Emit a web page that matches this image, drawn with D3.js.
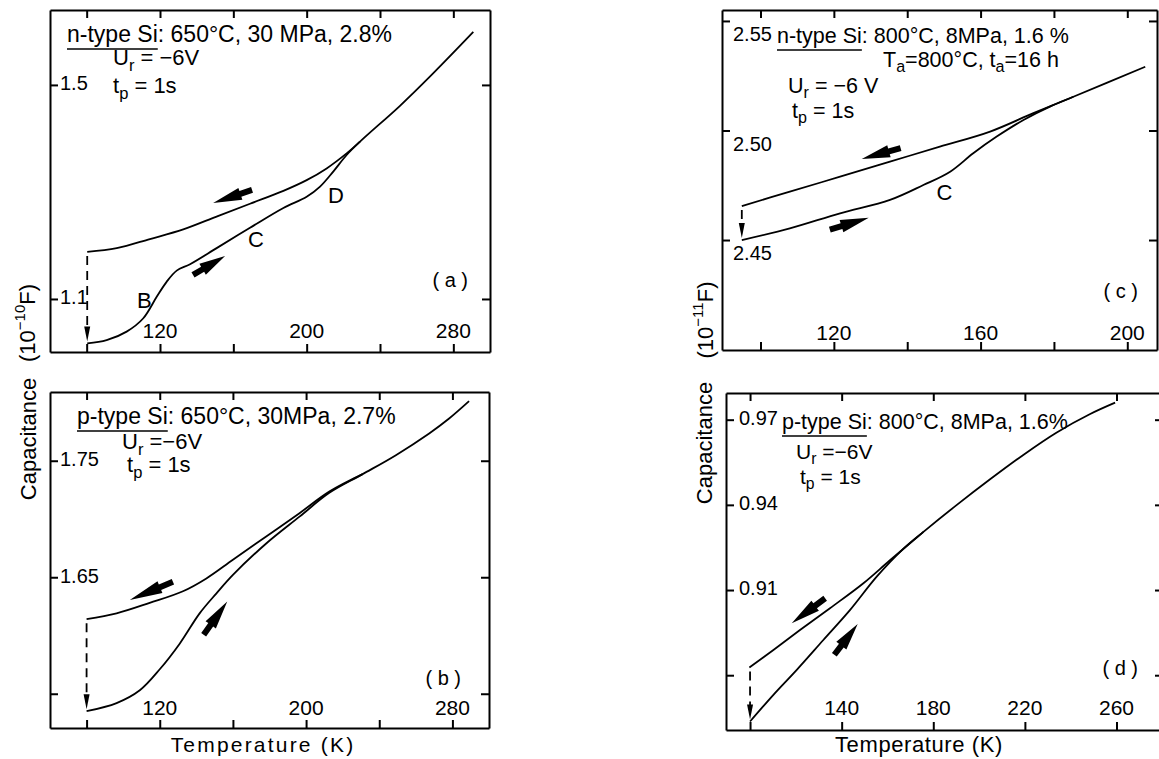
<!DOCTYPE html>
<html>
<head>
<meta charset="utf-8">
<script src="https://cdn.jsdelivr.net/npm/d3@7"></script>
<style>
  body { margin: 0; background: #fff; }
  svg text { fill: #000; }
</style>
</head>
<body>
<svg id="fig" width="1159" height="759"></svg>
<script>
// C(T) hysteresis of deformed Si, four panels

// (a) n-type Si, 650C 30MPa 2.8%  (capacitance in 1e-10 F)
var aHeatT = [80.3, 90.9, 101.8, 110.9, 118.2, 123.6, 129.1, 136.4, 150.9, 169.1, 187.3, 200, 207.3, 214.5, 221.8, 229.1, 250.9, 269.1, 290.9];
var aHeatC = [1.017, 1.023, 1.039, 1.064, 1.104, 1.132, 1.153, 1.165, 1.195, 1.233, 1.270, 1.291, 1.310, 1.338, 1.369, 1.394, 1.461, 1.522, 1.599];
var aCoolT = [80.3, 96.4, 114.5, 132.7, 150.9, 169.1, 187.3, 200, 210.9, 221.8, 229.1];
var aCoolC = [1.188, 1.195, 1.212, 1.230, 1.254, 1.278, 1.302, 1.322, 1.344, 1.372, 1.394];

// (b) p-type Si, 650C 30MPa 2.7%
var bHeatT = [80, 96.4, 109.1, 120, 130.9, 141.8, 150.9, 160, 178.2, 196.4, 212.7, 230.9, 249.1, 267.3, 278.2, 289.1];
var bHeatC = [1.535, 1.542, 1.553, 1.571, 1.593, 1.619, 1.636, 1.652, 1.679, 1.702, 1.7225, 1.7385, 1.7548, 1.7734, 1.7862, 1.8011];
var bCoolT = [80, 96.4, 114.5, 132.7, 145.5, 160, 178.2, 196.4, 212.7, 230.9];
var bCoolC = [1.614, 1.619, 1.628, 1.638, 1.649, 1.665, 1.685, 1.705, 1.7235, 1.7385];

// (c) n-type Si, 800C 8MPa 1.6%, annealed 800C 16h  (1e-11 F)
var cHeatT = [94.9, 108.0, 121.7, 135.3, 144.4, 151.7, 158.0, 164.4, 171.7, 178.9, 185.3, 204.9];
var cHeatC = [2.450, 2.4553, 2.4622, 2.4683, 2.4751, 2.4812, 2.4896, 2.4972, 2.5048, 2.5109, 2.5154, 2.5291];
var cCoolT = [94.9, 108.0, 121.7, 135.3, 148.9, 162.6, 174.4, 185.3];
var cCoolC = [2.4655, 2.4721, 2.4789, 2.4858, 2.4926, 2.4995, 2.5079, 2.5154];

// (d) p-type Si, 800C 8MPa 1.6%
var dHeatT = [100, 110.2, 120.4, 132.0, 143.7, 155.3, 166.9, 175.7, 190.3, 204.8, 219.3, 233.9, 248.5, 259.4];
var dHeatC = [0.8637, 0.8731, 0.8819, 0.8924, 0.9030, 0.9147, 0.9245, 0.9305, 0.9400, 0.9490, 0.9576, 0.9655, 0.9720, 0.9760];
var dCoolT = [99.7, 110.2, 121.8, 134.9, 149.5, 161.1, 175.7];
var dCoolC = [0.8827, 0.8889, 0.8959, 0.9036, 0.9124, 0.9205, 0.9305];

// ticks
var abTicksX = [80, 120, 160, 200, 240, 280];
var abLabelsX = [120, 200, 280];
var cTicksX = [100, 120, 140, 160, 180, 200];
var cLabelsX = [120, 160, 200];
var dTicksX = [100, 140, 180, 220, 260];
var dLabelsX = [140, 180, 220, 260];
var aTicksY = [1.1, 1.5], aLabelsY = ['1.1', '1.5'];
var bTicksY = [1.55, 1.65, 1.75], bLabelsY = ['1.65', '1.75'];
var cTicksY = [2.45, 2.50, 2.55], cLabelsY = ['2.45', '2.50', '2.55'];
var dTicksY = [0.88, 0.91, 0.94, 0.97], dLabelsY = ['0.91', '0.94', '0.97'];

// direction arrows [tailT, tailC, headT, headC]
var aArrows = [[170.2, 1.3037, 149.0, 1.2794], [138.0, 1.1449, 155.5, 1.1804]];
var bArrows = [[127.2, 1.6462, 103.6, 1.6305], [144.0, 1.6006, 156.9, 1.6291]];
var cArrows = [[138.2, 2.4920, 127.6, 2.4870], [118.9, 2.4547, 129.5, 2.4602]];
var dArrows = [[132.8, 0.9071, 118.2, 0.8983], [136.8, 0.8872, 147.0, 0.8980]];

// point letters [text, T, C]
var aLetters = [['B', 107.4, 1.083], ['C', 168, 1.197], ['D', 211.6, 1.279]];
var cLetters = [['C', 148, 2.4683]];

var FONT = "'Liberation Sans', Arial, sans-serif";
var svg = d3.select('#fig');

var panels = [
  {name: '(a)', left: 50, right: 490, top: 10, bottom: 352, xDom: [60, 300], yDom: [1.0009, 1.640],
   heat: [aHeatT, aHeatC], cool: [aCoolT, aCoolC], xTicks: abTicksX, xLabels: abLabelsX,
   yTicks: aTicksY, yLabels: aLabelsY, arrows: aArrows, letters: aLetters,
   yLabDx: 10, yLabDy: 0, xLabUp: 14, tagDx: -22, tagUp: 65, hs: 23, ls: 22,
   head: {dx: 17, dy: 32, under: 'n-type Si', rest: ': 650°C, 30 MPa, 2.8%'},
   lines: [{dx: 63, dy: 55, parts: [['U'], ['r', 1], [' = −6V']]}, {dx: 63, dy: 83, parts: [['t'], ['p', 1], [' = 1s']]}]},
  {name: '(b)', left: 50, right: 489, top: 392, bottom: 728, xDom: [60, 300], yDom: [1.5206, 1.809],
   heat: [bHeatT, bHeatC], cool: [bCoolT, bCoolC], xTicks: abTicksX, xLabels: abLabelsX,
   yTicks: bTicksY, yLabels: bLabelsY, arrows: bArrows, letters: [],
   yLabDx: 10, yLabDy: 0, xLabUp: 13, tagDx: -28, tagUp: 43, hs: 23, ls: 22,
   head: {dx: 27, dy: 32, under: 'p-type Si', rest: ': 650°C, 30MPa, 2.7%'},
   lines: [{dx: 72, dy: 57, parts: [['U'], ['r', 1], [' =−6V']]}, {dx: 77, dy: 80, parts: [['t'], ['p', 1], [' = 1s']]}]},
  {name: '(c)', left: 722, right: 1157, top: 10, bottom: 350, xDom: [89.5, 208.1], yDom: [2.3998, 2.555],
   heat: [cHeatT, cHeatC], cool: [cCoolT, cCoolC], xTicks: cTicksX, xLabels: cLabelsX,
   yTicks: cTicksY, yLabels: cLabelsY, arrows: cArrows, letters: cLetters,
   yLabDx: 11, yLabDy: 15, xLabUp: 10, tagDx: -19, tagUp: 52, hs: 21.5, ls: 21.5,
   head: {dx: 55, dy: 33, under: 'n-type Si', rest: ': 800°C,  8MPa, 1.6 %'},
   lines: [{dx: 161, dy: 57, parts: [['T'], ['a', 1], ['=800°C,  t'], ['a', 1], ['=16 h']]},
           {dx: 66, dy: 83, parts: [['U'], ['r', 1], [' = −6 V']]}, {dx: 70, dy: 108, parts: [['t'], ['p', 1], [' = 1s']]}]},
  {name: '(d)', left: 726, right: 1163, top: 393, bottom: 730, xDom: [89.5, 280.3], yDom: [0.8607, 0.9794],
   heat: [dHeatT, dHeatC], cool: [dCoolT, dCoolC], xTicks: dTicksX, xLabels: dLabelsX,
   yTicks: dTicksY, yLabels: dLabelsY, arrows: dArrows, letters: [],
   yLabDx: 13, yLabDy: 0, xLabUp: 15, tagDx: -25, tagUp: 55, hs: 21.5, ls: 21,
   head: {dx: 56, dy: 36, under: 'p-type Si', rest: ': 800°C, 8MPa, 1.6%'},
   lines: [{dx: 70, dy: 66, parts: [['U'], ['r', 1], [' =−6V']]}, {dx: 74, dy: 91, parts: [['t'], ['p', 1], [' = 1s']]}]}
];

function richText(g, px, py, parts, size) {
  var t = g.append('text').attr('x', px).attr('y', py)
    .style('font-family', FONT).style('font-size', size + 'px');
  var low = false;
  parts.forEach(function(p) {
    var s = t.append('tspan').text(p[0]);
    if (p[1] && !low) { s.attr('dy', size * 0.25).style('font-size', (size * 0.75) + 'px'); low = true; }
    else if (!p[1] && low) { s.attr('dy', -size * 0.25); low = false; }
  });
  return t;
}

function fatArrow(g, x0, y0, x1, y1) {
  var dx = x1 - x0, dy = y1 - y0, L = Math.hypot(dx, dy);
  var ux = dx / L, uy = dy / L, nx = -uy, ny = ux;
  var hl = L * 0.7, hw = 6.3, sw = 3;
  var bx = x1 - ux * hl, by = y1 - uy * hl;
  var pts = [[x0 + nx * sw, y0 + ny * sw], [bx + nx * sw, by + ny * sw], [bx + nx * hw, by + ny * hw], [x1, y1],
             [bx - nx * hw, by - ny * hw], [bx - nx * sw, by - ny * sw], [x0 - nx * sw, y0 - ny * sw]];
  g.append('path').attr('d', d3.line()(pts) + 'Z').attr('fill', '#000');
}

panels.forEach(function(p) {
  var g = svg.append('g');
  var x = d3.scaleLinear().domain(p.xDom).range([p.left, p.right]);
  var y = d3.scaleLinear().domain(p.yDom).range([p.bottom, p.top]);

  // frame + inward ticks on all four sides
  var axes = [
    [d3.axisBottom(x).tickValues(p.xTicks), 'translate(0,' + p.bottom + ')'],
    [d3.axisTop(x).tickValues(p.xTicks), 'translate(0,' + p.top + ')'],
    [d3.axisLeft(y).tickValues(p.yTicks), 'translate(' + p.left + ',0)'],
    [d3.axisRight(y).tickValues(p.yTicks), 'translate(' + p.right + ',0)']
  ];
  axes.forEach(function(a) {
    var ag = g.append('g').attr('transform', a[1])
      .call(a[0].tickSize(-8).tickSizeOuter(0).tickFormat(''));
    ag.selectAll('path, line').attr('stroke', '#000').attr('stroke-width', 2);
  });

  // tick labels inside the frame
  g.selectAll('.xl').data(p.xLabels).enter().append('text')
    .attr('x', function(d) { return x(d); })
    .attr('y', p.bottom - p.xLabUp)
    .attr('text-anchor', 'middle')
    .style('font-family', FONT).style('font-size', '21px')
    .text(function(d) { return d; });
  g.selectAll('.yl').data(p.yLabels).enter().append('text')
    .attr('x', p.left + p.yLabDx)
    .attr('y', function(d) { return y(+d) + p.yLabDy; })
    .attr('dominant-baseline', 'middle')
    .style('font-family', FONT).style('font-size', '20px')
    .text(function(d) { return d; });

  // curves
  var line = d3.line().x(function(d) { return x(d[0]); }).y(function(d) { return y(d[1]); })
    .curve(d3.curveCatmullRom.alpha(0.5));
  [p.heat, p.cool].forEach(function(s) {
    g.append('path').attr('d', line(d3.zip(s[0], s[1])))
      .attr('fill', 'none').attr('stroke', '#000').attr('stroke-width', 1.8);
  });

  // dashed drop from cooling start to heating start
  var dxp = x(p.heat[0][0]);
  var yTopD = y(p.cool[1][0]) + 4, yBot = y(p.heat[1][0]) - 2;
  g.append('line').attr('x1', dxp).attr('x2', dxp).attr('y1', yTopD).attr('y2', yBot - 10)
    .attr('stroke', '#000').attr('stroke-width', 1.8).attr('stroke-dasharray', '9,6');
  g.append('path').attr('d', d3.line()([[dxp - 3, yBot - 15], [dxp + 3, yBot - 15], [dxp, yBot]]) + 'Z')
    .attr('fill', '#000');

  p.arrows.forEach(function(a) { fatArrow(g, x(a[0]), y(a[1]), x(a[2]), y(a[3])); });

  p.letters.forEach(function(l) {
    g.append('text').attr('x', x(l[1])).attr('y', y(l[2]))
      .style('font-family', FONT).style('font-size', '22px').text(l[0]);
  });

  // panel tag
  g.append('text').attr('x', p.right + p.tagDx).attr('y', p.bottom - p.tagUp)
    .attr('text-anchor', 'end').style('font-family', FONT).style('font-size', '20px')
    .text(p.name.replace('(', '( ').replace(')', ' )'));

  // sample header, underlined material
  var hx = p.left + p.head.dx, hy = p.top + p.head.dy;
  var u = g.append('text').attr('x', hx).attr('y', hy)
    .style('font-family', FONT).style('font-size', p.hs + 'px').text(p.head.under);
  var w = u.node().getComputedTextLength();
  g.append('line').attr('x1', hx).attr('x2', hx + w).attr('y1', hy + 7).attr('y2', hy + 7)
    .attr('stroke', '#000').attr('stroke-width', 1.5);
  g.append('text').attr('x', hx + w).attr('y', hy)
    .style('font-family', FONT).style('font-size', p.hs + 'px').text(p.head.rest);
  p.lines.forEach(function(l) { richText(g, p.left + l.dx, p.top + l.dy, l.parts, p.ls); });
});

// axis titles
function rotLabel(cx, cy, parts) {
  var t = svg.append('text').attr('transform', 'translate(' + cx + ',' + cy + ') rotate(-90)')
    .attr('text-anchor', 'middle').attr('dominant-baseline', 'middle')
    .style('font-family', FONT).style('font-size', '22px');
  parts.forEach(function(p) {
    var s = t.append('tspan').text(p[0]);
    if (p[1]) s.attr('dy', -8).style('font-size', '15px');
    else if (p[2]) s.attr('dy', 8);
  });
}
rotLabel(30, 439, [['Capacitance']]);
rotLabel(706, 443, [['Capacitance']]);
rotLabel(29, 323, [['(10'], ['−10', 1], ['F)', 0, 1]]);
rotLabel(707, 320, [['(10'], ['−11', 1], ['F)', 0, 1]]);

svg.append('text').attr('x', 263).attr('y', 752).attr('text-anchor', 'middle')
  .style('font-family', FONT).style('font-size', '21px').style('letter-spacing', '2.2px')
  .text('Temperature  (K)');
svg.append('text').attr('x', 919).attr('y', 752).attr('text-anchor', 'middle')
  .style('font-family', FONT).style('font-size', '22px').style('letter-spacing', '0.6px')
  .text('Temperature (K)');
</script>
</body>
</html>
